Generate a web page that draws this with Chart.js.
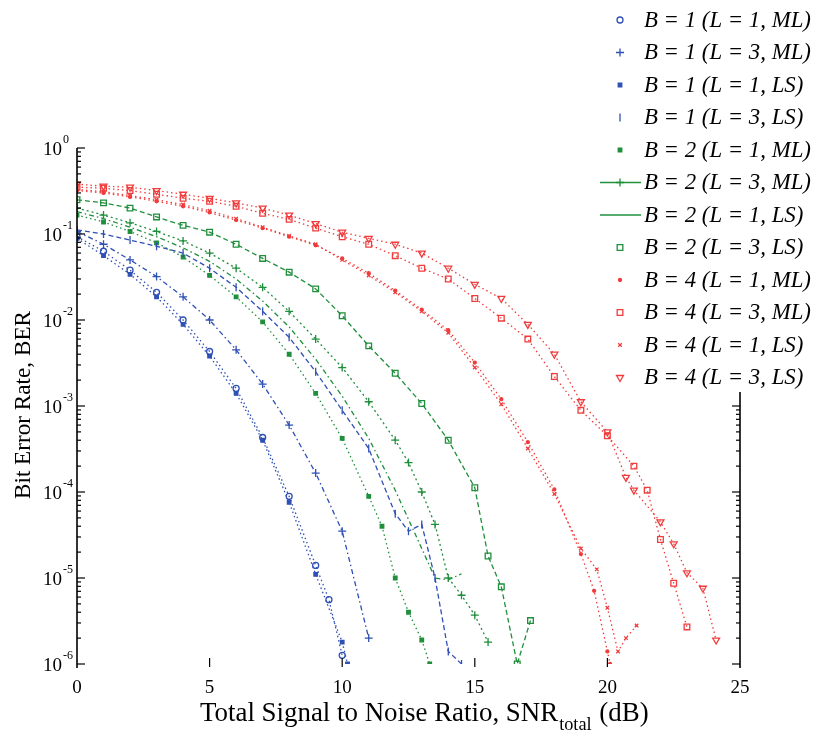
<!DOCTYPE html>
<html><head><meta charset="utf-8">
<script src="https://cdn.jsdelivr.net/npm/chart.js@4.4.1/dist/chart.umd.min.js"></script>
<style>html,body{margin:0;padding:0;background:#fff;}canvas{display:block}</style>
</head><body>
<canvas id="c" width="815" height="738"></canvas>
<script>
// ---- data (x = SNR dB, y = BER) ----
const b1L1mlX = [0,1,2,3,4,5,6,7,8,9,9.5,10];
const b1L1mlY = [9.3e-2,6.3e-2,3.8e-2,2.1e-2,1.0e-2,4.3e-3,1.6e-3,4.3e-4,8.9e-5,1.4e-5,5.6e-6,1.26e-6];
const b1L3mlX = [0,1,2,3,4,5,6,7,8,9,10,11];
const b1L3mlY = [1.07e-1,7.6e-2,5.0e-2,3.2e-2,1.86e-2,1.0e-2,4.5e-3,1.8e-3,6.0e-4,1.66e-4,3.5e-5,2.0e-6];
const b1L1lsX = [0,1,2,3,4,5,6,7,8,9,10,10.2];
const b1L1lsY = [8.9e-2,5.6e-2,3.4e-2,1.86e-2,8.9e-3,3.8e-3,1.4e-3,4.0e-4,7.6e-5,1.1e-5,1.8e-6,1.0e-6];
const b1L3lsX = [0,1,2,3,4,5,6,7,8,9,10,11,12,12.5,13,13.5,14,14.5];
const b1L3lsY = [1.12e-1,1.0e-1,8.5e-2,7.2e-2,6.0e-2,4.0e-2,2.4e-2,1.26e-2,6.3e-3,2.5e-3,8.9e-4,3.2e-4,5.6e-5,3.5e-5,4.2e-5,1.0e-5,1.4e-6,1.0e-6];

const b2L1mlX = [0,1,2,3,4,5,6,7,8,9,10,11,11.5,12,12.5,13,13.3];
const b2L1mlY = [1.66e-1,1.38e-1,1.07e-1,7.9e-2,5.4e-2,3.3e-2,1.86e-2,9.5e-3,4.0e-3,1.4e-3,4.2e-4,8.9e-5,4.0e-5,1.0e-5,4.0e-6,1.9e-6,1.0e-6];
const b2L3mlX = [0,1,2,3,4,5,6,7,8,9,10,11,12,12.5,13,13.5,14,14.5,15,15.5];
const b2L3mlY = [2.0e-1,1.66e-1,1.35e-1,1.07e-1,8.3e-2,6.0e-2,4.0e-2,2.4e-2,1.26e-2,6.0e-3,2.8e-3,1.12e-3,4.0e-4,2.2e-4,1.0e-4,4.2e-5,1.0e-5,6.3e-6,3.7e-6,1.8e-6];
const b2L1lsX = [0,1,2,3,4,5,6,7,8,9,10,11,12,13,13.5,14,14.5];
const b2L1lsY = [1.82e-1,1.51e-1,1.2e-1,9.3e-2,6.9e-2,4.8e-2,3.0e-2,1.66e-2,8.3e-3,3.5e-3,1.3e-3,4.2e-4,1.05e-4,2.2e-5,1.0e-5,9.5e-6,1.12e-5];
const b2L3lsX = [0,1,2,3,4,5,6,7,8,9,10,11,12,13,14,15,15.5,16,16.6,17.1];
const b2L3lsY = [2.5e-1,2.3e-1,2.0e-1,1.58e-1,1.26e-1,1.05e-1,7.6e-2,5.2e-2,3.6e-2,2.3e-2,1.12e-2,5.0e-3,2.4e-3,1.07e-3,4.0e-4,1.12e-4,1.8e-5,7.9e-6,1.0e-6,3.2e-6];

const b4L1mlX = [0,1,2,3,4,5,6,7,8,9,10,11,12,13,14,15,16,17,18,19,19.5,20,20.1];
const b4L1mlY = [3.2e-1,3.0e-1,2.7e-1,2.4e-1,2.1e-1,1.78e-1,1.45e-1,1.17e-1,9.3e-2,7.4e-2,5.2e-2,3.5e-2,2.2e-2,1.32e-2,7.6e-3,3.2e-3,1.2e-3,3.8e-4,1.07e-4,1.9e-5,7.1e-6,1.4e-6,1.0e-6];
const b4L3mlX = [0,1,2,3,4,5,6,7,8,9,10,11,12,13,14,15,16,17,18,19,20,21,21.5,22,22.5,23];
const b4L3mlY = [3.5e-1,3.4e-1,3.2e-1,2.9e-1,2.6e-1,2.4e-1,2.1e-1,1.74e-1,1.48e-1,1.17e-1,9.3e-2,7.6e-2,5.6e-2,4.0e-2,3.0e-2,1.78e-2,1.05e-2,6.0e-3,2.2e-3,8.9e-4,4.5e-4,2.0e-4,1.05e-4,2.8e-5,8.7e-6,2.7e-6];
const b4L1lsX = [0,1,2,3,4,5,6,7,8,9,10,11,12,13,14,15,16,17,18,19,19.6,20,20.4,20.7,21.1];
const b4L1lsY = [3.3e-1,3.1e-1,2.8e-1,2.5e-1,2.2e-1,1.86e-1,1.51e-1,1.2e-1,9.5e-2,7.6e-2,5.0e-2,3.3e-2,2.1e-2,1.26e-2,7.1e-3,2.8e-3,1.05e-3,3.2e-4,9.5e-5,2.2e-5,1.26e-5,4.5e-6,1.4e-6,2.0e-6,2.8e-6];
const b4L3lsX = [0,1,2,3,4,5,6,7,8,9,10,11,12,13,14,15,16,17,18,19,20,20.7,21,22,22.5,23,23.6,24.1];
const b4L3lsY = [3.8e-1,3.6e-1,3.5e-1,3.2e-1,2.9e-1,2.6e-1,2.3e-1,2.0e-1,1.66e-1,1.32e-1,1.05e-1,8.9e-2,7.6e-2,6.0e-2,4.0e-2,2.6e-2,1.78e-2,8.9e-3,4.0e-3,1.12e-3,5.0e-4,1.48e-4,1.05e-4,4.5e-5,2.5e-5,1.15e-5,7.6e-6,1.9e-6];

const seriesLabels = [
  'B = 1 (L = 1, ML)','B = 1 (L = 3, ML)','B = 1 (L = 1, LS)','B = 1 (L = 3, LS)',
  'B = 2 (L = 1, ML)','B = 2 (L = 3, ML)','B = 2 (L = 1, LS)','B = 2 (L = 3, LS)',
  'B = 4 (L = 1, ML)','B = 4 (L = 3, ML)','B = 4 (L = 1, LS)','B = 4 (L = 3, LS)'];
const xTickValues = [0,5,10,15,20,25];
const xTickLabels = ['0','5','10','15','20','25'];
const yTickValues = [1,1e-1,1e-2,1e-3,1e-4,1e-5,1e-6];
const yTickExponents = ['0','-1','-2','-3','-4','-5','-6'];

// ---- styling ----
const BLUE = '#2f50b4', GREEN = '#1f8f3c', RED = '#f03c3c';
const seriesXY = [
  [b1L1mlX,b1L1mlY],[b1L3mlX,b1L3mlY],[b1L1lsX,b1L1lsY],[b1L3lsX,b1L3lsY],
  [b2L1mlX,b2L1mlY],[b2L3mlX,b2L3mlY],[b2L1lsX,b2L1lsY],[b2L3lsX,b2L3lsY],
  [b4L1mlX,b4L1mlY],[b4L3mlX,b4L3mlY],[b4L1lsX,b4L1lsY],[b4L3lsX,b4L3lsY]];
const styles = [
  {c:BLUE, ps:'circle', r:3, fill:false, dash:[1.5,3], rot:0},
  {c:BLUE, ps:'cross', r:4, fill:false, dash:[5,3,1.5,3], rot:0},
  {c:BLUE, ps:'rect', r:2.5, fill:true, dash:[1.5,3], rot:0},
  {c:BLUE, ps:'line', r:4, fill:false, dash:[5,3], rot:90},
  {c:GREEN, ps:'rect', r:2.5, fill:true, dash:[1.5,3], rot:0},
  {c:GREEN, ps:'cross', r:4, fill:false, dash:[2,3], rot:0, legendLine:true},
  {c:GREEN, ps:'circle', r:0, fill:false, dash:[5,3,1.5,3], rot:0, legendLine:true},
  {c:GREEN, ps:'rect', r:4, fill:false, dash:[5,3], rot:0},
  {c:RED, ps:'circle', r:1.5, fill:true, dash:[1.5,3], rot:0},
  {c:RED, ps:'rect', r:4, fill:false, dash:[1.5,3], rot:0},
  {c:RED, ps:'crossRot', r:2.5, fill:false, dash:[1.5,3], rot:0},
  {c:RED, ps:'triangle', r:4, fill:false, dash:[1.5,3], rot:180}];

const datasets = seriesXY.map((xy, i) => {
  const s = styles[i];
  return {
    label: seriesLabels[i],
    data: xy[0].map((x, k) => ({x: x, y: xy[1][k]})),
    borderColor: s.c, backgroundColor: s.c,
    borderWidth: 1.3, borderDash: s.dash,
    pointStyle: s.ps, pointRadius: s.r, pointRotation: s.rot,
    pointBorderColor: s.c, pointBackgroundColor: s.fill ? s.c : 'rgba(0,0,0,0)',
    pointBorderWidth: 1.3, pointHoverRadius: s.r,
    tension: 0, fill: false, legendLine: !!s.legendLine
  };
});

const SERIF = '"Liberation Serif", "DejaVu Serif", serif';

function fitFont(ctx, text, style, targetWidth) {
  ctx.font = style + ' 20px ' + SERIF;
  const w = ctx.measureText(text).width;
  return 20 * targetWidth / w;
}

const decorPlugin = {
  id: 'decor',
  afterDraw(chart) {
    const ctx = chart.ctx, xs = chart.scales.x, ys = chart.scales.y, a = chart.chartArea;
    ctx.save();
    ctx.strokeStyle = '#000'; ctx.fillStyle = '#000'; ctx.setLineDash([]);
    // left axis
    ctx.lineWidth = 1.6;
    ctx.beginPath(); ctx.moveTo(a.left, a.top); ctx.lineTo(a.left, a.bottom + 4); ctx.stroke();
    // right axis (below legend)
    ctx.beginPath(); ctx.moveTo(a.right, 392); ctx.lineTo(a.right, a.bottom + 4); ctx.stroke();
    ctx.lineWidth = 1.2;
    // y ticks
    for (let e = 0; e >= -6; e--) {
      const base = Math.pow(10, e);
      const py = ys.getPixelForValue(base);
      ctx.beginPath(); ctx.moveTo(a.left, py); ctx.lineTo(a.left + 8, py); ctx.stroke();
      if (py >= 392) { ctx.beginPath(); ctx.moveTo(a.right, py); ctx.lineTo(a.right - 8, py); ctx.stroke(); }
      if (e > -6) {
        for (let m = 2; m <= 9; m++) {
          const v = m * Math.pow(10, e - 1);
          const p = ys.getPixelForValue(v);
          ctx.beginPath(); ctx.moveTo(a.left, p); ctx.lineTo(a.left + 4, p); ctx.stroke();
          if (p >= 392) { ctx.beginPath(); ctx.moveTo(a.right, p); ctx.lineTo(a.right - 4, p); ctx.stroke(); }
        }
      }
    }
    // x ticks
    xTickValues.forEach(v => {
      const px = xs.getPixelForValue(v);
      if (v > 0 && v < 25) { ctx.beginPath(); ctx.moveTo(px, a.bottom + 3); ctx.lineTo(px, a.bottom - 6); ctx.stroke(); }
    });
    // x tick labels
    ctx.font = '19px ' + SERIF; ctx.textAlign = 'center'; ctx.textBaseline = 'middle';
    xTickValues.forEach((v, i) => ctx.fillText(xTickLabels[i], xs.getPixelForValue(v), 688));
    // y tick labels with superscripts
    yTickValues.forEach((v, i) => {
      const py = ys.getPixelForValue(v);
      ctx.font = '19px ' + SERIF; ctx.textAlign = 'right'; ctx.textBaseline = 'middle';
      ctx.fillText('10', 62, py + 2);
      ctx.font = '12px ' + SERIF; ctx.textAlign = 'left';
      ctx.fillText(yTickExponents[i], 63, py - 8);
    });
    // y title
    ctx.save();
    ctx.translate(24, 405); ctx.rotate(-Math.PI / 2);
    const yt = 'Bit Error Rate, BER';
    const yfs = fitFont(ctx, yt, '', 188);
    ctx.font = yfs.toFixed(1) + 'px ' + SERIF; ctx.textAlign = 'center'; ctx.textBaseline = 'middle';
    ctx.fillText(yt, 0, 0);
    ctx.restore();
    // x title with subscript
    const t1 = 'Total Signal to Noise Ratio, SNR', t2 = 'total', t3 = ' (dB)';
    const xfs = fitFont(ctx, t1, '', 358);
    ctx.font = xfs.toFixed(1) + 'px ' + SERIF;
    const w1 = ctx.measureText(t1).width;
    const w3 = ctx.measureText(t3).width;
    ctx.font = (xfs * 0.68).toFixed(1) + 'px ' + SERIF;
    const w2 = ctx.measureText(t2).width;
    let x0 = 200;
    ctx.textAlign = 'left'; ctx.textBaseline = 'alphabetic';
    ctx.font = xfs.toFixed(1) + 'px ' + SERIF; ctx.fillText(t1, x0, 721);
    ctx.font = (xfs * 0.68).toFixed(1) + 'px ' + SERIF; ctx.fillText(t2, x0 + w1 + 1, 730);
    ctx.font = xfs.toFixed(1) + 'px ' + SERIF; ctx.fillText(t3, x0 + w1 + w2 + 2, 721);
    // legend
    const lfs = fitFont(ctx, seriesLabels[0], 'italic', 167);
    chart.data.datasets.forEach((ds, i) => {
      const ly = 20 + i * 32.5, cx = 620;
      ctx.save();
      ctx.strokeStyle = ds.borderColor; ctx.fillStyle = ds.pointBackgroundColor; ctx.lineWidth = 1.5;
      if (ds.legendLine) { ctx.setLineDash([]); ctx.beginPath(); ctx.moveTo(600, ly); ctx.lineTo(641, ly); ctx.stroke(); }
      if (ds.pointRadius > 0) {
        ctx.lineWidth = 1.3;
        Chart.helpers.drawPoint(ctx, {pointStyle: ds.pointStyle, radius: ds.pointRadius, rotation: ds.pointRotation, borderWidth: 1.3}, cx, ly);
      }
      ctx.restore();
      ctx.fillStyle = '#000';
      ctx.font = 'italic ' + lfs.toFixed(1) + 'px ' + SERIF; ctx.textAlign = 'left'; ctx.textBaseline = 'middle';
      ctx.fillText(ds.label, 644, ly + 1);
    });
    ctx.restore();
  }
};

new Chart(document.getElementById('c'), {
  type: 'line',
  data: { datasets: datasets },
  options: {
    responsive: false, animation: false, devicePixelRatio: 1,
    layout: { padding: { left: 0, right: 75, top: 148, bottom: 0 } },
    plugins: { legend: { display: false }, tooltip: { enabled: false } },
    scales: {
      x: { type: 'linear', min: 0, max: 25, grid: { display: false }, border: { display: false },
           ticks: { display: false }, afterFit: s => { s.height = 74; } },
      y: { type: 'logarithmic', min: 1e-6, max: 1, grid: { display: false }, border: { display: false },
           ticks: { display: false }, afterFit: s => { s.width = 77; } }
    }
  },
  plugins: [decorPlugin]
});
</script>
</body></html>
